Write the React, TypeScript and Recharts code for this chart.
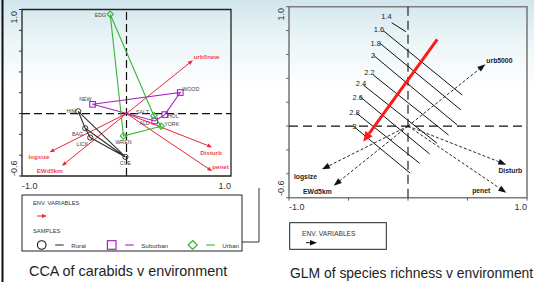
import React from "react";
import {
  ComposedChart,
  Scatter,
  XAxis,
  YAxis,
  ReferenceLine,
  ReferenceArea,
} from "recharts";

const FONT = "'Liberation Sans', Arial, Helvetica, sans-serif";

// ---------- CCA of carabids (left panel) ----------
const ruralNames = ["HIM", "BAG", "LICK", "CUE"];
const ruralX = [-0.462, -0.395, -0.347, -0.01];
const ruralY = [0.022, -0.141, -0.231, -0.417];

const suburbanNames = ["NEW", "WOOD", "HOL", "ALD"];
const suburbanX = [-0.325, 0.514, 0.366, 0.27];
const suburbanY = [0.089, 0.202, -0.01, -0.071];

const urbanNames = ["EDG", "WREN", "YORK", "SALT"];
const urbanX = [-0.156, -0.029, 0.332, 0.262];
const urbanY = [0.954, -0.215, -0.122, -0.02];

// order of the hull edges (indices into the arrays above)
const ruralEdges = [3, 0, 1, 2, 3, 1];
const suburbanEdges = [0, 1, 2, 3, 0];
const urbanEdges = [0, 1, 2, 3, 0];

const ccaEnvNames = ["urb5new", "logsize", "EWd5km", "Disturb", "penet"];
const ccaEnvX = [0.635, -0.737, -0.619, 0.82, 0.82];
const ccaEnvY = [0.512, -0.372, -0.503, -0.324, -0.554];

// ---------- GLM of species richness (right panel) ----------
const contourLevels = ["1.4", "1.6", "1.8", "2", "2.2", "2.4", "2.6", "2.8", "3"];
const contourX1 = [-0.137, -0.208, -0.235, -0.292, -0.292, -0.376, -0.403, -0.431, -0.454];
const contourY1 = [0.866, 0.799, 0.693, 0.595, 0.428, 0.344, 0.246, 0.107, -0.005];
const contourX2 = [-0.017, 0.456, 0.445, 0.414, 0.341, 0.244, 0.182, 0.098, 0.019];
const contourY2 = [0.79, 0.26, 0.135, 0.009, -0.075, -0.144, -0.234, -0.312, -0.395];

const gradientFrom = { x: 0.246, y: 0.727 };
const gradientTo = { x: -0.376, y: -0.131 };

const glmEnvNames = ["urb5000", "logsize", "EWd5km", "Disturb", "penet"];
const glmEnvX = [0.65, -0.723, -0.624, 0.826, 0.826];
const glmEnvY = [0.518, -0.362, -0.499, -0.323, -0.558];

const yTicks = [-0.6, -0.4, -0.2, 0, 0.2, 0.4, 0.6, 0.8, 1.0];
const sampleGroups = ["Rural", "Suburban", "Urban"];

// label placement (dx, dy, anchor) – styling only
type Anchor = "start" | "middle" | "end";
const sampleLabelPos: Record<string, [number, number, Anchor]> = {
  HIM: [-2, 0, "end"],
  BAG: [-2, 6, "end"],
  LICK: [-2, 6, "end"],
  CUE: [0, 6, "middle"],
  NEW: [-1, -5, "end"],
  WOOD: [2, -4, "start"],
  HOL: [3, 1, "start"],
  ALD: [-5, 2, "end"],
  EDG: [-4, 1, "end"],
  WREN: [0, 6, "middle"],
  YORK: [3, -2, "start"],
  SALT: [-5, -4, "end"],
};
const ccaEnvLabelPos: Record<string, [number, number, Anchor]> = {
  urb5new: [1, -4, "start"],
  logsize: [0, 4, "end"],
  EWd5km: [1, 5, "end"],
  Disturb: [-1, 5, "middle"],
  penet: [0, -5, "start"],
};
const glmEnvLabelPos: Record<string, [number, number, Anchor]> = {
  urb5000: [1, -4, "start"],
  logsize: [-5, 7, "end"],
  EWd5km: [-2, 6, "end"],
  Disturb: [4, 6, "middle"],
  penet: [-16, -2, "end"],
};
const contourLabelPos: Record<string, [number, number]> = {
  "1.4": [0, -6],
  "1.6": [1, -1],
  "1.8": [1, 0],
  "2": [2, 0],
  "2.2": [1.5, -2],
  "2.4": [3, -2],
  "2.6": [3, 1],
  "2.8": [3, -1],
  "3": [2.5, 0],
};

const RED = "#e9263a";
const RED_LABEL = "#ef4654";
const PURPLE = "#a820bf";
const GREEN = "#34b534";
const DARK = "#333";

const groupColor: Record<string, string> = { Rural: DARK, Suburban: PURPLE, Urban: GREEN };

const toPoints = (names: string[], xs: number[], ys: number[]) =>
  names.map((name, i) => ({ name, x: xs[i], y: ys[i] }));
const toPath = (xs: number[], ys: number[], order: number[]) =>
  order.map((i) => ({ x: xs[i], y: ys[i] }));

function Marker({ cx, cy, payload, kind, color }: any) {
  if (cx == null || cy == null) return <g />;
  const name = payload?.name ?? "";
  const [dx, dy, anchor] = sampleLabelPos[name] || [0, 0, "start"];
  let mark: React.ReactNode;
  if (kind === "circle") {
    mark = <circle cx={cx} cy={cy} r={2.6} fill="none" stroke={color} strokeWidth={1} />;
  } else if (kind === "square") {
    mark = <rect x={cx - 2.8} y={cy - 2.8} width={5.6} height={5.6} fill="none" stroke={color} strokeWidth={1.1} />;
  } else {
    mark = (
      <polygon
        points={`${cx},${cy - 3.2} ${cx + 3.2},${cy} ${cx},${cy + 3.2} ${cx - 3.2},${cy}`}
        fill="none"
        stroke={color}
        strokeWidth={1.1}
      />
    );
  }
  return (
    <g>
      {mark}
      <text
        x={cx + dx}
        y={cy + dy}
        textAnchor={anchor}
        dominantBaseline="central"
        fontSize={5.3}
        fill="#444"
        fontFamily={FONT}
      >
        {name}
      </text>
    </g>
  );
}

function Arrow(p: any) {
  const { x1, y1, x2, y2, color, width, dash, head, headW, label, labelColor, fontSize, bold, pos } = p;
  if ([x1, y1, x2, y2].some((v) => v == null || isNaN(v))) return <g />;
  const dx = x2 - x1;
  const dy = y2 - y1;
  const len = Math.hypot(dx, dy) || 1;
  const ux = dx / len;
  const uy = dy / len;
  const bx = x2 - ux * head;
  const by = y2 - uy * head;
  const px = -uy * (headW / 2);
  const py = ux * (headW / 2);
  const [ldx, ldy, anchor] = pos || [0, 0, "start"];
  return (
    <g>
      <line x1={x1} y1={y1} x2={bx} y2={by} stroke={color} strokeWidth={width} strokeDasharray={dash} />
      <polygon points={`${x2},${y2} ${bx + px},${by + py} ${bx - px},${by - py}`} fill={color} />
      {label && (
        <text
          x={x2 + ldx}
          y={y2 + ldy}
          textAnchor={anchor}
          dominantBaseline="central"
          fontSize={fontSize}
          fontWeight={bold ? "bold" : "normal"}
          fill={labelColor}
          fontFamily={FONT}
        >
          {label}
        </text>
      )}
    </g>
  );
}

const makeYTick = (topDy: number, botDy: number, dx: number) => (p: any) => {
  const v = p.payload?.value;
  const isTop = Math.abs(v - 1) < 1e-6;
  const isBot = Math.abs(v + 0.6) < 1e-6;
  if (!isTop && !isBot) return <g />;
  const x = p.x + dx;
  const y = p.y + (isTop ? topDy : botDy);
  return (
    <text
      x={x}
      y={y}
      transform={`rotate(-90 ${x} ${y})`}
      textAnchor={isTop ? "end" : "start"}
      dominantBaseline="central"
      fontSize={9}
      fill={DARK}
      fontFamily={FONT}
    >
      {Number(v).toFixed(1)}
    </text>
  );
};

const makeXTick = (dy: number) => (p: any) => {
  const v = p.payload?.value;
  const isLeft = Math.abs(v + 1) < 1e-6;
  const isRight = Math.abs(v - 1) < 1e-6;
  if (!isLeft && !isRight) return <g />;
  return (
    <text
      x={p.x}
      y={p.y + dy}
      textAnchor={isLeft ? "start" : "end"}
      dominantBaseline="central"
      fontSize={9}
      fill={DARK}
      fontFamily={FONT}
    >
      {Number(v).toFixed(1)}
    </text>
  );
};

const CcaChart = () => {
  const series = [
    { names: ruralNames, xs: ruralX, ys: ruralY, order: ruralEdges, kind: "circle", color: DARK },
    { names: suburbanNames, xs: suburbanX, ys: suburbanY, order: suburbanEdges, kind: "square", color: PURPLE },
    { names: urbanNames, xs: urbanX, ys: urbanY, order: urbanEdges, kind: "diamond", color: GREEN },
  ];
  return (
    <ComposedChart width={262} height={200} margin={{ top: 9.5, right: 31, bottom: 23, left: 21 }}>
      <XAxis
        type="number"
        dataKey="x"
        domain={[-1, 1]}
        ticks={[-1, 1]}
        interval={0}
        allowDataOverflow
        height={1}
        axisLine={false}
        tickLine={false}
        tick={makeXTick(2)}
      />
      <YAxis
        type="number"
        dataKey="y"
        domain={[-0.6, 1]}
        ticks={yTicks}
        interval={0}
        allowDataOverflow
        width={1}
        axisLine={false}
        tickSize={3}
        tickLine={{ stroke: DARK }}
        tick={makeYTick(1.5, 0, -3)}
      />
      <ReferenceArea x1={-1} x2={1} y1={-0.6} y2={1} fill="none" stroke="#222" strokeWidth={1.3} />
      <ReferenceLine x={0} stroke="#111" strokeWidth={1.2} strokeDasharray="8 4" />
      <ReferenceLine y={0} stroke="#111" strokeWidth={1.2} strokeDasharray="8 4" />
      {ccaEnvNames.map((name, i) => (
        <ReferenceLine
          key={name}
          segment={[{ x: 0, y: 0 }, { x: ccaEnvX[i], y: ccaEnvY[i] }]}
          shape={(p: any) => (
            <Arrow
              {...p}
              color={RED}
              width={1}
              head={5}
              headW={4}
              label={name}
              labelColor={RED_LABEL}
              fontSize={6.2}
              bold
              pos={ccaEnvLabelPos[name]}
            />
          )}
        />
      ))}
      {series.map((s) => (
        <Scatter
          key={s.kind + "-hull"}
          data={toPath(s.xs, s.ys, s.order)}
          line={{ stroke: s.color, strokeWidth: 1.1 }}
          lineType="joint"
          shape={() => <g />}
          isAnimationActive={false}
        />
      ))}
      {series.map((s) => (
        <Scatter
          key={s.kind}
          data={toPoints(s.names, s.xs, s.ys)}
          shape={(p: any) => <Marker {...p} kind={s.kind} color={s.color} />}
          isAnimationActive={false}
        />
      ))}
    </ComposedChart>
  );
};

const GlmChart = () => (
  <ComposedChart width={267} height={215} margin={{ top: 6.7, right: 7, bottom: 16.3, left: 21 }}>
    <XAxis
      type="number"
      dataKey="x"
      domain={[-1, 1]}
      ticks={[-1, -0.5, 0, 0.5, 1]}
      interval={0}
      allowDataOverflow
      height={1}
      axisLine={false}
      tickSize={3}
      tickLine={{ stroke: "#666" }}
      tick={makeXTick(4)}
    />
    <YAxis
      type="number"
      dataKey="y"
      domain={[-0.6, 1]}
      ticks={yTicks}
      interval={0}
      allowDataOverflow
      width={1}
      axisLine={false}
      tickSize={3}
      tickLine={{ stroke: "#666" }}
      tick={makeYTick(1.3, -1.7, -3)}
    />
    <ReferenceArea x1={-1} x2={1} y1={-0.6} y2={1} fill="none" stroke="#7c7c7c" strokeWidth={1.6} />
    <ReferenceLine x={0} stroke="#111" strokeWidth={1.1} strokeDasharray="9 5" />
    <ReferenceLine y={0} stroke="#111" strokeWidth={1.1} strokeDasharray="9 5" />
    {contourLevels.map((lvl, i) => (
      <ReferenceLine
        key={lvl}
        segment={[
          { x: contourX1[i], y: contourY1[i] },
          { x: contourX2[i], y: contourY2[i] },
        ]}
        shape={(p: any) => {
          const [dx, dy] = contourLabelPos[lvl];
          return (
            <g>
              <line x1={p.x1} y1={p.y1} x2={p.x2} y2={p.y2} stroke="#111" strokeWidth={1} />
              <text
                x={p.x1 + dx}
                y={p.y1 + dy}
                textAnchor="end"
                dominantBaseline="central"
                fontSize={7.5}
                fill="#222"
                fontFamily={FONT}
              >
                {lvl}
              </text>
            </g>
          );
        }}
      />
    ))}
    {glmEnvNames.map((name, i) => (
      <ReferenceLine
        key={name}
        segment={[{ x: 0, y: 0 }, { x: glmEnvX[i], y: glmEnvY[i] }]}
        shape={(p: any) => (
          <Arrow
            {...p}
            color="#111"
            width={0.9}
            dash="3 2"
            head={8}
            headW={6}
            label={name}
            labelColor="#222"
            fontSize={6.8}
            bold
            pos={glmEnvLabelPos[name]}
          />
        )}
      />
    ))}
    <ReferenceLine
      segment={[gradientFrom, gradientTo]}
      shape={(p: any) => <Arrow {...p} color="#ff1a1a" width={3} head={10} headW={9} />}
    />
  </ComposedChart>
);

const Overlay = () => {
  const rowY = 245;
  const itemX = [41.7, 111.7, 192.7];
  return (
    <svg
      width={534}
      height={282}
      style={{ position: "absolute", left: 0, top: 0, pointerEvents: "none" }}
      fontFamily={FONT}
    >
      <line x1={2.5} y1={0} x2={2.5} y2={282} stroke="#111" strokeWidth={2} />
      {/* corner of the frame behind the left legend */}
      <polyline points="259,188 259,242 236,242" fill="none" stroke="#333" strokeWidth={1} />

      {/* left legend */}
      <rect x={22} y={195} width={220} height={56} fill="#fff" stroke="#222" strokeWidth={1} />
      <text x={33} y={203} fontSize={5.8} fill={DARK} dominantBaseline="central">
        ENV. VARIABLES
      </text>
      <line x1={37} y1={216} x2={43} y2={216} stroke={RED} strokeWidth={1} />
      <polygon points="47,216 42,214 42,218" fill={RED} />
      <text x={33} y={230.7} fontSize={5.8} fill={DARK} dominantBaseline="central">
        SAMPLES
      </text>
      {sampleGroups.map((g, i) => {
        const cx = itemX[i];
        const c = groupColor[g];
        return (
          <g key={g}>
            {i === 0 && <circle cx={cx} cy={rowY} r={4.3} fill="none" stroke="#111" strokeWidth={1.1} />}
            {i === 1 && <rect x={cx - 4.3} y={rowY - 4.3} width={8.6} height={8.6} fill="none" stroke={c} strokeWidth={1.2} />}
            {i === 2 && (
              <polygon
                points={`${cx},${rowY - 4.5} ${cx + 4.5},${rowY} ${cx},${rowY + 4.5} ${cx - 4.5},${rowY}`}
                fill="none"
                stroke={c}
                strokeWidth={1.2}
              />
            )}
            <line x1={cx + 13.5} y1={rowY} x2={cx + 22} y2={rowY} stroke={c} strokeWidth={1.1} />
            <text x={cx + 29.5} y={rowY} fontSize={6.2} fill={DARK} dominantBaseline="central">
              {g}
            </text>
          </g>
        );
      })}

      {/* right legend */}
      <rect x={289.7} y={222.7} width={96.6} height={26.6} fill="#fff" stroke="#222" strokeWidth={1} />
      <text x={302} y={233} fontSize={6.7} fill={DARK} dominantBaseline="central">
        ENV. VARIABLES
      </text>
      <line x1={306} y1={242.7} x2={311} y2={242.7} stroke="#111" strokeWidth={1} />
      <polygon points="317,242.7 310,240 310,245.4" fill="#111" />

      <text x={29} y={270.6} fontSize={14.4} fill="#222" dominantBaseline="central">
        CCA of carabids v environment
      </text>
      <text x={290} y={273} fontSize={13.9} fill="#222" dominantBaseline="central">
        GLM of species richness v environment
      </text>
    </svg>
  );
};

export default function App() {
  return (
    <div
      style={{
        position: "fixed",
        left: 0,
        top: 0,
        width: 534,
        height: 282,
        overflow: "hidden",
        background: "linear-gradient(#d1e6ed 0px, #eef6f8 45px, #ffffff 90px)",
        fontFamily: FONT,
      }}
    >
      <div style={{ position: "absolute", left: 0, top: 0 }}>
        <CcaChart />
      </div>
      <div style={{ position: "absolute", left: 267, top: 0 }}>
        <GlmChart />
      </div>
      <Overlay />
    </div>
  );
}
